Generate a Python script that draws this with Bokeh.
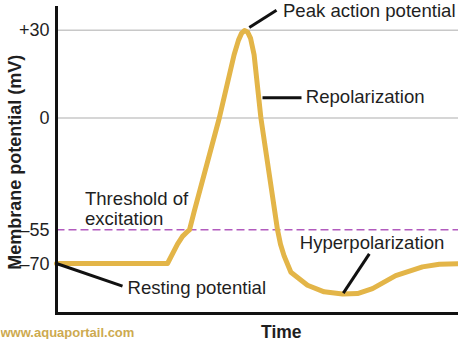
import numpy as np
from bokeh.plotting import figure
from bokeh.models import Label, FixedTicker, Range1d
from bokeh.embed import file_html
from bokeh.resources import INLINE

# ---------------- data ----------------
time = [0, 27.75, 30.25, 31.5, 32.75, 33.25, 34.4, 40.7, 44.4, 45.5, 46.25, 47.0,
        47.75, 48.5, 49.4, 51.1, 55.25, 56.0, 56.9, 58.6, 62.75, 66.9, 71.5, 75.25,
        79.0, 84.8, 91.5, 95.7, 102.0]
membrane_mv = [-70, -70, -61.4, -57.9, -55.7, -55, -46.2, 0, 21.6, 26.6, 28.9, 29.9,
               29.4, 27.3, 21.6, 0, -55, -61.4, -66.6, -73.9, -79.7, -82.6, -83.6, -83.4,
               -81.2, -75.4, -71.5, -70.3, -70.1]
tick_mv = [30, 0, -55, -70]
tick_labels = ["+30", "0", "\u201355", "\u201370"]
grid_mv = [30, 0]
threshold_mv = -55

# schematic (piecewise) axis: mV -> axis units
MV_BREAKS = [-100, -70, -55, 0, 30, 60]
U_BREAKS = [-72.7, -49.7, -38.2, 0, 30, 60]


def to_u(mv):
    return np.interp(mv, MV_BREAKS, U_BREAKS)


FONT = "Liberation Sans"
TXT = "#1f1f1f"
GOLD = "#E3B548"

T0, T1 = 0.0, 100.5          # time axis extent
U_BOT, U_TOP = -66.77, 37.57  # potential axis extent

p = figure(width=458, height=339, output_backend="svg", toolbar_location=None,
           x_range=Range1d(-14.0, 100.5), y_range=Range1d(-75.65, 40.13),
           min_border_left=0, min_border_right=0, min_border_top=0,
           min_border_bottom=0)
p.outline_line_color = None
p.xgrid.visible = False
p.ygrid.visible = False
p.background_fill_color = "white"
p.border_fill_color = "white"

# axes (drawn at fixed locations inside the canvas)
ticks_u = [float(to_u(v)) for v in tick_mv]
p.yaxis.ticker = FixedTicker(ticks=ticks_u)
p.yaxis.major_label_overrides = {u: lab for u, lab in zip(ticks_u, tick_labels)}
p.yaxis.major_label_text_font = FONT
p.yaxis.major_label_text_font_size = "18px"
p.yaxis.major_label_text_color = TXT
p.yaxis.major_label_standoff = 7
p.yaxis.fixed_location = T0
p.yaxis.bounds = (U_BOT, U_TOP)
p.xaxis.ticker = FixedTicker(ticks=[])
p.xaxis.major_label_text_font_size = "0px"
p.xaxis.fixed_location = U_BOT
p.xaxis.bounds = (T0, T1)
for ax in (p.xaxis[0], p.yaxis[0]):
    ax.axis_line_width = 3
    ax.axis_line_color = "#111111"
    ax.axis_line_cap = "square"
    ax.major_tick_line_color = None
    ax.minor_tick_line_color = None
    ax.major_tick_out = 0
    ax.major_tick_in = 0

# reference lines
grid_u = [float(to_u(g)) for g in grid_mv]
p.segment([T0] * len(grid_u), grid_u, [T1] * len(grid_u), grid_u,
          line_color="#c8c8c8", line_width=1.5, level="underlay")
thr_u = float(to_u(threshold_mv))
p.segment([T0], [thr_u], [T1], [thr_u], line_color="#B25BBE", line_width=1.5,
          line_dash="8 4", level="underlay")

# action potential curve
p.line(time, to_u(membrane_mv), line_color=GOLD, line_width=5,
       line_join="round", line_cap="round")

# leader lines (t, axis units)
lead_x0 = [48.2, 51.5, 0, 71.7]
lead_y0 = [30.9, 6.9, -49.7, -59.8]
lead_x1 = [55.0, 61.25, 16.5, 78.2]
lead_y1 = [36.8, 6.9, -57.4, -46.4]
p.segment(lead_x0, lead_y0, lead_x1, lead_y1, line_color="#111111", line_width=3)


def lab(x, y, text, size="18.6px", style="normal", color=TXT, align="left",
        baseline="middle", angle=0):
    p.add_layout(Label(x=x, y=y, text=text, text_font=FONT, text_font_size=size,
                       text_font_style=style, text_color=color, text_align=align,
                       text_baseline=baseline, angle=angle))


lab(56.6, 36.55, "Peak action potential")
lab(62.3, 7.2, "Repolarization")
lab(7.1, -27.4, "Threshold of")
lab(7.1, -34.3, "excitation")
lab(17.75, -57.9, "Resting potential")
lab(60.8, -42.4, "Hyperpolarization")
lab(56.2, -73.09, "Time", size="17.5px", style="bold", align="center",
    baseline="alphabetic")
lab(-10.5, -15.1, "Membrane potential (mV)", size="18px", style="bold",
    align="center", baseline="alphabetic", angle=np.pi / 2)
lab(-14.0, -73.43, "www.aquaportail.com", size="13px", style="bold",
    color="#CDAA50", baseline="alphabetic")

open("out.html", "w").write(file_html(p, INLINE))
